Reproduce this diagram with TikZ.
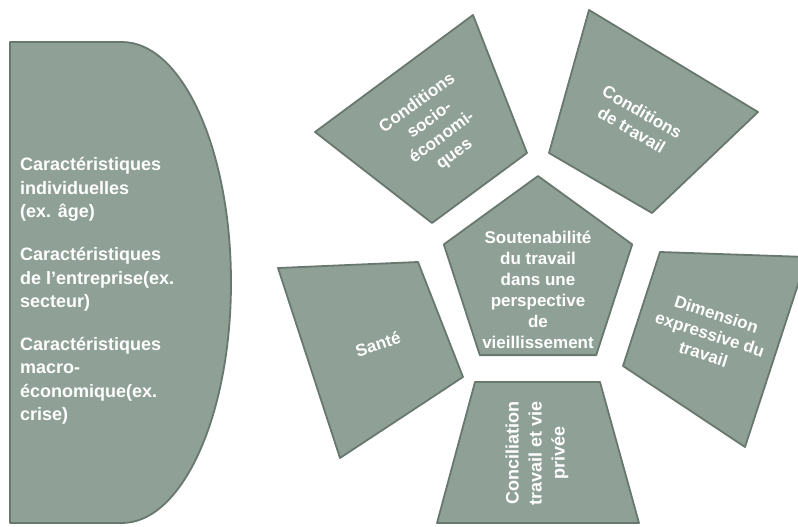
\documentclass[tikz,border=0pt]{standalone}
\usepackage{fontspec}
\setmainfont{Liberation Sans}
\definecolor{boxfill}{RGB}{143,160,150}
\definecolor{boxline}{RGB}{104,120,110}
\tikzset{
  blok/.style={fill=boxfill, draw=boxline, line width=1.8pt, line join=round},
  lbl/.style={text=white, align=center, inner sep=0pt, font=\bfseries\fontsize{17}{21}\selectfont},
}
\begin{document}
\begin{tikzpicture}[x=1pt, y=-1pt]
        \clip (0,0) rectangle (798,527);

        % facteurs (left)
        \draw[blok] (10,42) -- (122,42) .. controls (182.2,42) and (231,149.7) .. (231,282.5)
                .. controls (231,415.3) and (182.2,523) .. (122,523) -- (10,523) -- cycle;
        \node[lbl, align=left, anchor=west, font=\bfseries\fontsize{18}{23.3}\selectfont] (facteurs) at (20,291) {%
                Caractéristiques\\individuelles\\(ex. âge)\\[20pt]
                Caractéristiques\\de l’entreprise(ex.\\secteur)\\[20pt]
                Caractéristiques\\macro-\\économique(ex.\\crise)};

        % centre
        \draw[blok] (538,176) -- (443.8,244.4) -- (479.8,355.1) -- (596.2,355.1) -- (632.2,244.4) -- cycle;
        \node[lbl] (soutenabilite) at (538,290) {Soutenabilité\\du travail\\dans une\\perspective\\de\\vieillissement};

        % trapezes
        \draw[blok] (473,15) -- (315,132) -- (432,223) -- (527,153) -- cycle;
        \node[lbl, rotate=36] (socio) at (436,129) {Conditions\\socio-\\économi-\\ques};

        \draw[blok] (589,10) -- (758,112) -- (652,213) -- (549,153) -- cycle;
        \node[lbl, rotate=-30] (condtrav) at (637,121) {Conditions\\de travail};

        \draw[blok] (278,268) -- (418,262) -- (463,377) -- (340,458) -- cycle;
        \node[lbl, rotate=18] (sante) at (378,344) {Santé};

        \draw[blok] (660,252) -- (807,257) -- (745,447) -- (623,366) -- cycle;
        \node[lbl, rotate=-18] (expressive) at (710,334) {Dimension\\expressive du\\travail};

        \draw[blok] (475,382) -- (600,382) -- (639,523) -- (437,523) -- cycle;
        \node[lbl, rotate=90, font=\bfseries\fontsize{18}{23}\selectfont] (conciliation) at (537,453) {Conciliation\\travail et vie\\privée};
\end{tikzpicture}
\end{document}
